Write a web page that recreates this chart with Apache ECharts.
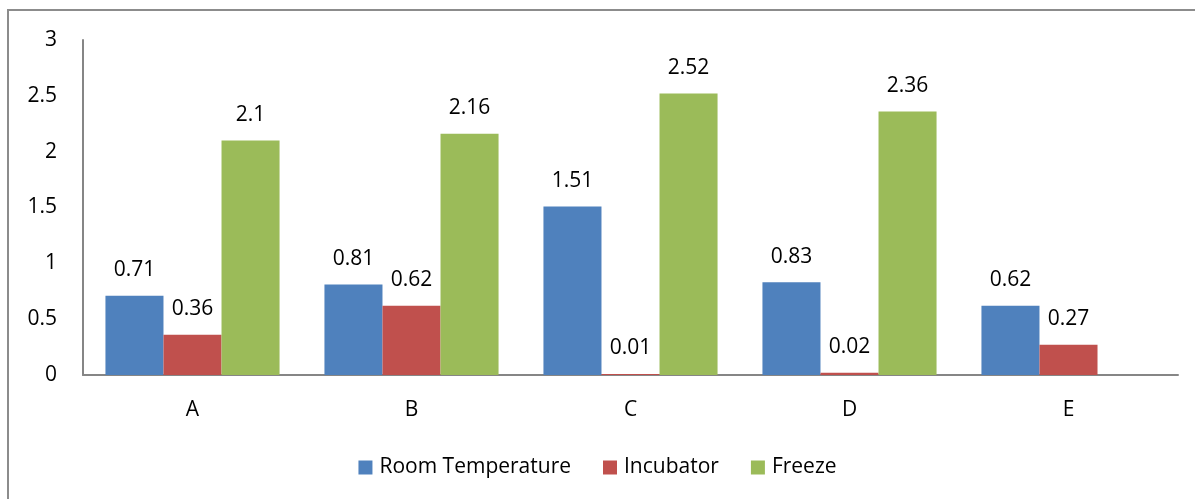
<!DOCTYPE html>
<html>
<head>
<meta charset="utf-8">
<script src="https://cdn.jsdelivr.net/npm/echarts@6/dist/echarts.min.js"></script>
<style>
  html, body { margin: 0; padding: 0; background: #fff; }
  #frame { position: absolute; left: 7px; top: 9px; width: 1300px; height: 600px; border: 2px solid #8c8c8c; box-sizing: border-box; }
  #chart { position: absolute; left: 0; top: 0; width: 1195px; height: 499px; }
</style>
</head>
<body>
<div id="frame"></div>
<div id="chart"></div>
<script>
  var categories = ["A", "B", "C", "D", "E"]
  var roomTemp = [0.71, 0.81, 1.51, 0.83, 0.62]
  var incubator = [0.36, 0.62, 0.01, 0.02, 0.27]
  var freeze = [2.1, 2.16, 2.52, 2.36, null]

  var font = "'Open Sans', sans-serif"
  var fs = 21

  var chart = echarts.init(document.getElementById("chart"))

  function barSeries(name, data, color) {
    return {
      name: name,
      type: "bar",
      data: data,
      barGap: 0,
      barCategoryGap: "20.5%",
      itemStyle: { color: color },
      label: {
        show: true,
        position: "top",
        distance: 15,
        color: "#000",
        fontSize: fs,
        fontFamily: font
      }
    }
  }

  var option = {
    animation: false,
    grid: { left: 83, right: 17, top: 40, bottom: 124 },
    legend: {
      bottom: 16,
      left: "center",
      itemWidth: 14,
      itemHeight: 14,
      itemGap: 32,
      icon: "rect",
      textStyle: { color: "#000", fontSize: fs, fontFamily: font, padding: [0, 0, 0, 2] },
      data: ["Room Temperature", "Incubator", "Freeze"]
    },
    xAxis: {
      type: "category",
      data: categories,
      axisLine: { lineStyle: { color: "#868686", width: 2 } },
      axisTick: { show: false },
      axisLabel: { color: "#000", fontSize: fs, fontFamily: font, margin: 25 }
    },
    yAxis: {
      type: "value",
      min: 0,
      max: 3,
      interval: 0.5,
      splitLine: { show: false },
      axisLine: { show: true, lineStyle: { color: "#868686", width: 2 } },
      axisTick: { show: false },
      axisLabel: { color: "#000", fontSize: fs, fontFamily: font, margin: 26 }
    },
    series: [
      barSeries("Room Temperature", roomTemp, "#4F81BD"),
      barSeries("Incubator", incubator, "#C0504D"),
      barSeries("Freeze", freeze, "#9BBB59")
    ]
  }

  chart.setOption(option)
</script>
</body>
</html>
